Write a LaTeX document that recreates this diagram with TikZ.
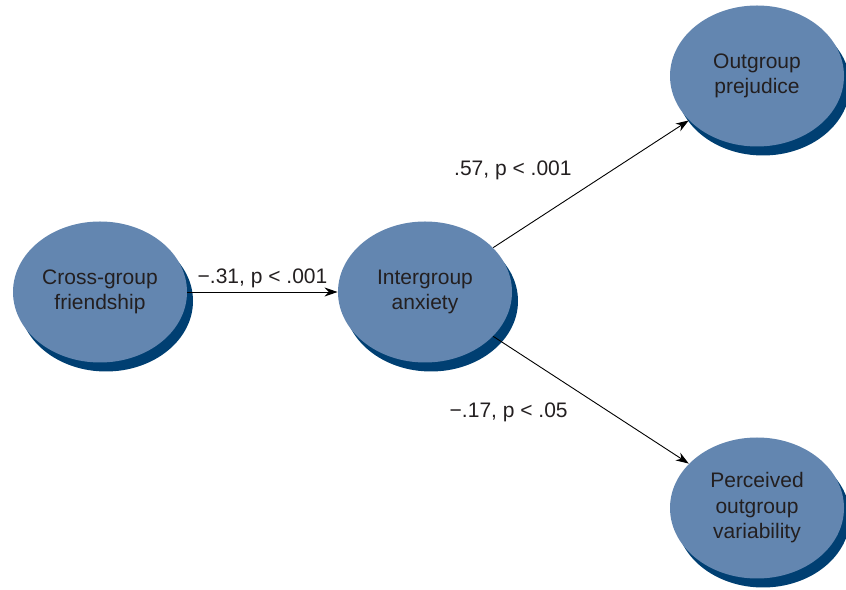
\documentclass[tikz,border=0pt]{standalone}
\usepackage{fontspec}
\setmainfont{Liberation Sans}
\usetikzlibrary{shapes.geometric,shadows,arrows.meta}
\definecolor{nodeblue}{HTML}{6386B0}
\definecolor{shadeblue}{HTML}{003F72}
\definecolor{ink}{HTML}{231F20}
\tikzset{
  factor/.style = {
    ellipse, fill=nodeblue, text=ink, align=center,
    minimum width=174pt, minimum height=141pt, inner sep=0pt,
    font=\fontsize{21}{25.5}\selectfont, yshift=0pt,
    drop shadow={shadow xshift=6pt,shadow yshift=-9pt,fill=shadeblue,opacity=1}
  },
  coef/.style = {text=ink, font=\fontsize{21}{25}\selectfont}
}
\tikzset{>={Stealth[length=13pt,width=9pt]}}

\begin{document}
\begin{tikzpicture}[x=1pt,y=1pt,line width=0.9pt]
  \useasboundingbox (0,0) rectangle (846,589);
  \node[factor] (friend) at (100,297) {Cross-group\\friendship};
  \node[factor] (anx) at (425,297) {Intergroup\\anxiety};
  \node[factor] (prej) at (757,513) {Outgroup\\prejudice};
  \node[factor] (vari) at (757,81) {Perceived\\outgroup\\variability};
  \draw[->] (friend) -- (anx) node[coef,midway,above] {−.31, p < .001};
  \draw[->] (anx) -- (prej) node[coef,pos=0.42,anchor=south east,yshift=11pt] {.57, p < .001};
  \draw[->] (anx) -- (vari) node[coef,pos=0.4,anchor=north east,yshift=-12pt] {−.17, p < .05};
\end{tikzpicture}
\end{document}
